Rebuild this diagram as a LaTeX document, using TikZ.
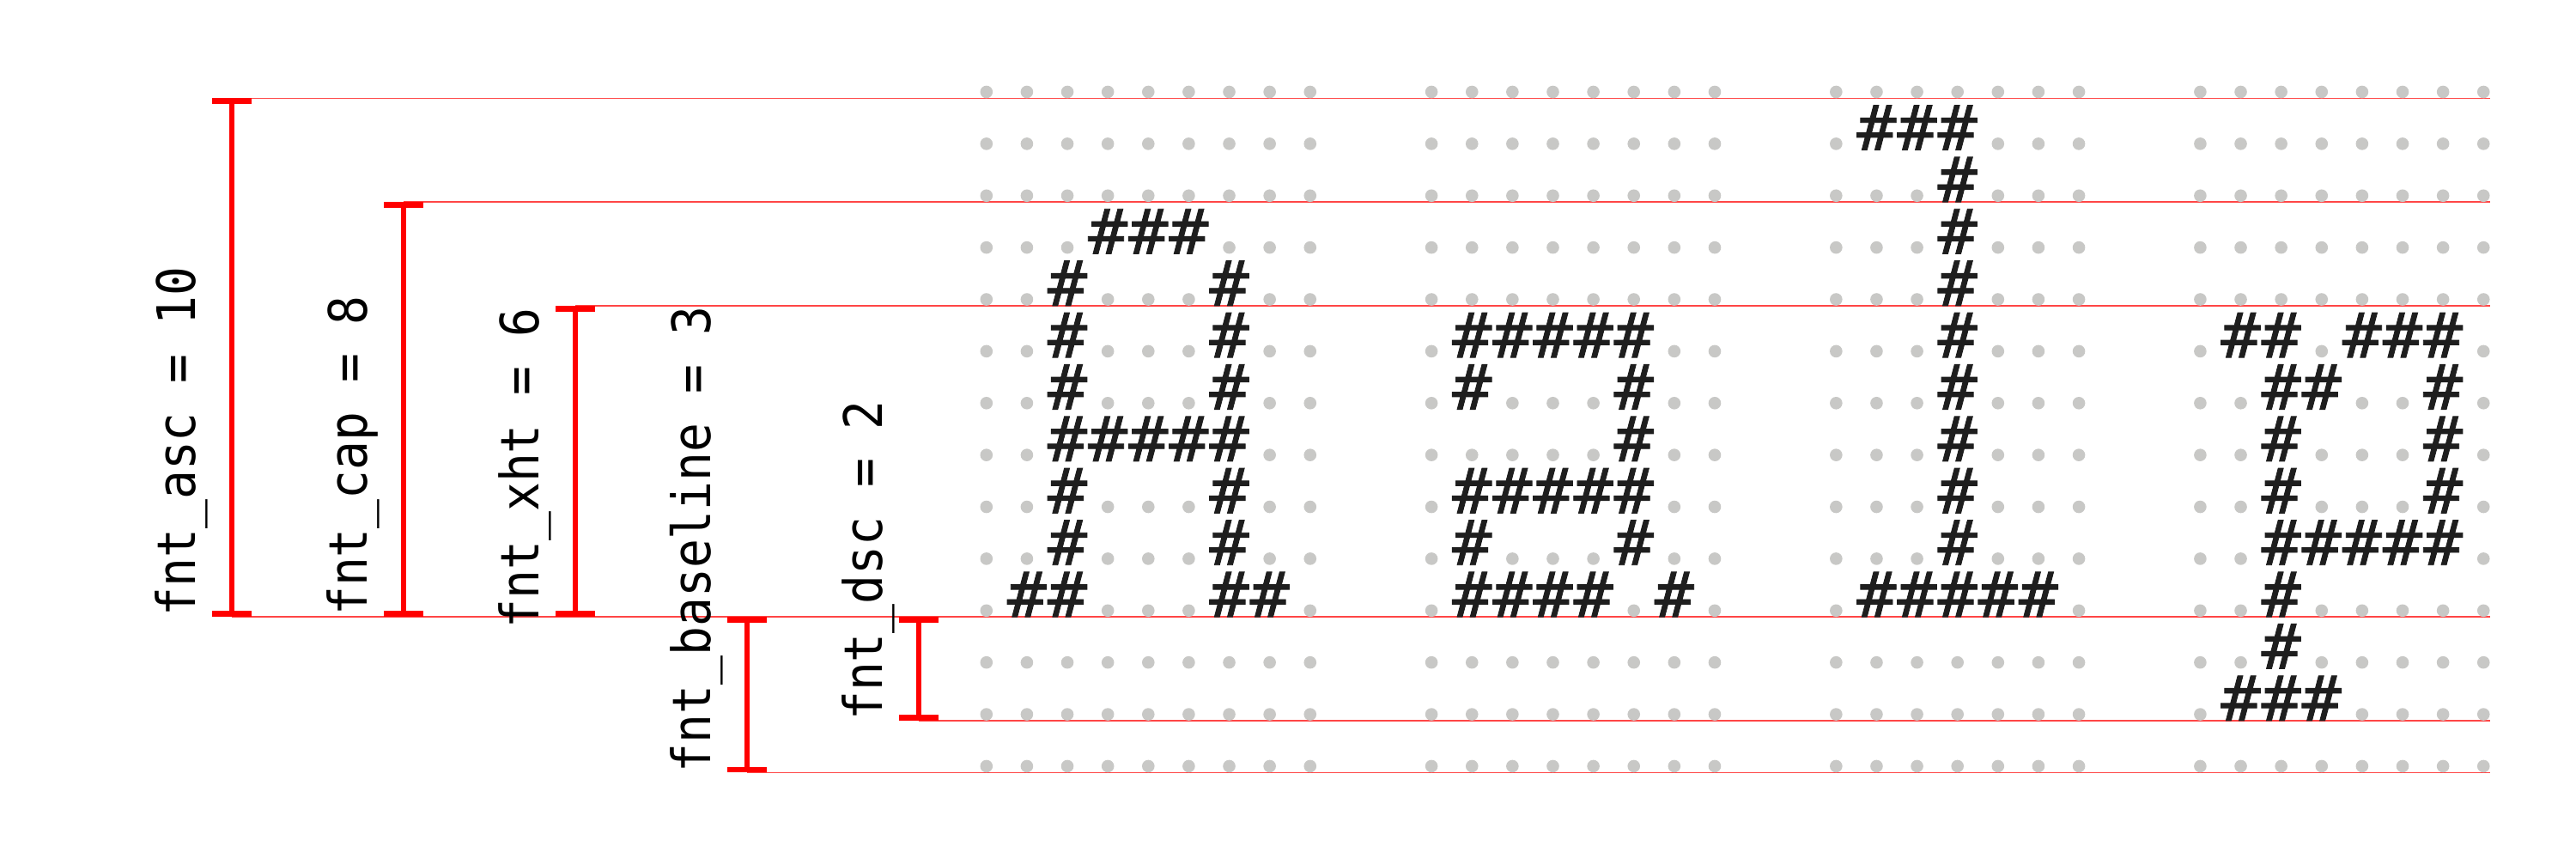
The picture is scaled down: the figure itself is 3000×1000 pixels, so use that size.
\documentclass[tikz,border=0pt]{standalone}
\usepackage{fontspec}
\usetikzlibrary{calc}
\newfontfamily\lblfont[FakeStretch=0.912]{DejaVu Sans Mono}
\newfontfamily\gridfont[FakeStretch=1.05,FakeBold=1.2]{DejaVu Sans Mono}
\definecolor{metric}{RGB}{255,70,70}
\definecolor{dotgray}{RGB}{200,200,198}
\definecolor{ink}{RGB}{30,30,30}
\begin{document}
\begin{tikzpicture}[x=1bp,y=-1bp,
  lbl/.style={rotate=90, anchor=base, inner sep=0pt, font=\lblfont\fontsize{61.7bp}{70bp}\selectfont, text=black},
  hashch/.style={anchor=base, inner sep=0pt, text height=53bp, text depth=0pt, font=\gridfont\fontsize{72.7bp}{80bp}\selectfont, text=ink},
  guide/.style={draw=metric, line width=1.5bp},
  bar/.style={draw=red, line width=6.7bp},
]
\fill[white] (0,0) rectangle (3000,1000);
\useasboundingbox (0,0) rectangle (3000,1000);

% metric levels
\coordinate (E) at (2900,0);
\coordinate (asc-t) at (270,114.3);  \coordinate (asc-b) at (270,718.1);
\coordinate (cap-t) at (470,235.1);  \coordinate (cap-b) at (470,718.1);
\coordinate (xht-t) at (670,355.8);  \coordinate (xht-b) at (670,718.1);
\coordinate (base-t) at (870,718.1); \coordinate (base-b) at (870,899.3);
\coordinate (dsc-t) at (1070,718.1); \coordinate (dsc-b) at (1070,838.9);

% guide lines
\foreach \m in {asc,cap,xht,base,dsc}{
  \draw[guide] (\m-t) -- (\m-t -| E);
  \draw[guide] (\m-b) -- (\m-b -| E);
}

% glyph grid
\foreach \r/\c in {1/22,1/23,1/24,2/24,3/3,3/4,3/5,3/24,4/2,4/6,4/24,
  5/2,5/6,5/12,5/13,5/14,5/15,5/16,5/24,5/31,5/32,5/34,5/35,5/36,
  6/2,6/6,6/12,6/16,6/24,6/32,6/33,6/36,
  7/2,7/3,7/4,7/5,7/6,7/16,7/24,7/32,7/36,
  8/2,8/6,8/12,8/13,8/14,8/15,8/16,8/24,8/32,8/36,
  9/2,9/6,9/12,9/16,9/24,9/32,9/33,9/34,9/35,9/36,
  10/1,10/2,10/6,10/7,10/12,10/13,10/14,10/15,10/17,10/22,10/23,10/24,10/25,10/26,10/32,
  11/32,12/31,12/32,12/33}{
  \expandafter\xdef\csname hh-\r-\c\endcsname{1}
}
\begin{scope}
\clip (0,0) rectangle (2900,1000);
\foreach \r in {0,...,13}{
  \foreach \o/\n in {0/8,11/7,21/6,30/7}{
    \foreach \j in {0,...,\n}{
      \pgfmathtruncatemacro{\cc}{\o+\j}
      \pgfmathsetmacro{\gx}{1148.8+47.12*\cc}
      \pgfmathsetmacro{\gy}{114.3+60.38*\r}
      \ifcsname hh-\r-\cc\endcsname
        \node[hashch] (g-\r-\cc) at (\gx,\gy) {\#};
      \else
        \fill[dotgray] (\gx,\gy-7.3) circle[radius=7.3];
      \fi
    }
  }
}
\end{scope}

% brackets
\foreach \m in {asc,cap,xht,base,dsc}{
  \draw[bar] (\m-t) -- (\m-b);
  \draw[bar] ($(\m-t)+(-22.7,3.35)$) -- ($(\m-t)+(22.7,3.35)$);
  \draw[bar] ($(\m-b)+(-22.7,-3.35)$) -- ($(\m-b)+(22.7,-3.35)$);
}

% labels
\node[lbl] (asc-l) at (227,514) {fnt\_asc = 10};
\node[lbl] (cap-l) at (427,530.5) {fnt\_cap = 8};
\node[lbl] (xht-l) at (627,545) {fnt\_xht = 6};
\node[lbl] (base-l) at (827,628) {fnt\_baseline = 3};
\node[lbl] (dsc-l) at (1027,652.5) {fnt\_dsc = 2};
\end{tikzpicture}
\end{document}
